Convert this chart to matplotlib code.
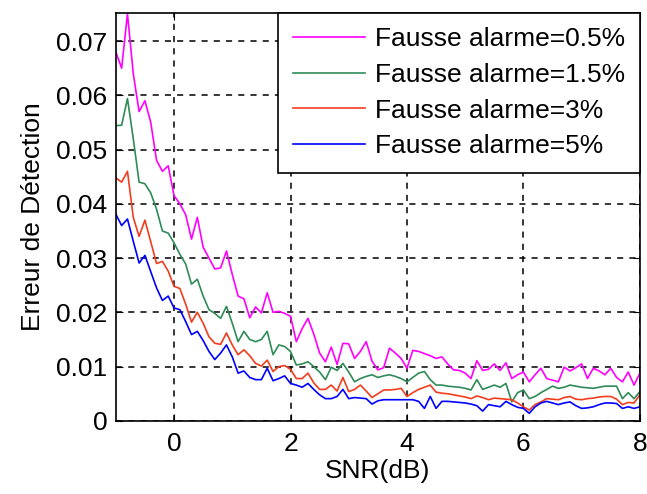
import numpy as np
import matplotlib.pyplot as plt

plt.rcParams['font.family'] = ['Liberation Sans', 'DejaVu Sans']

# SNR axis, 0.1 dB step
snr = np.round(np.arange(-1.0, 8.001, 0.1), 1)

err_05 = [0.0680, 0.0650, 0.0750, 0.0640, 0.0570, 0.0590, 0.0550, 0.0480, 0.0460, 0.0470,
          0.0415, 0.0400, 0.0380, 0.0335, 0.0375, 0.0320, 0.0300, 0.0280, 0.0282, 0.0313,
          0.0270, 0.0230, 0.0225, 0.0190, 0.0210, 0.0199, 0.0236, 0.0200, 0.0202, 0.0198,
          0.0193, 0.0146, 0.0170, 0.0189, 0.0160, 0.0125, 0.0109, 0.0136, 0.0104, 0.0143,
          0.0142, 0.0115, 0.0128, 0.0146, 0.0110, 0.0094, 0.0098, 0.0134, 0.0125, 0.0115,
          0.0097, 0.0130, 0.0128, 0.0124, 0.0120, 0.0115, 0.0118, 0.0105, 0.0094, 0.0093,
          0.0088, 0.0078, 0.0111, 0.0093, 0.0095, 0.0105, 0.0093, 0.0107, 0.0078, 0.0085,
          0.0090, 0.0072, 0.0085, 0.0097, 0.0078, 0.0075, 0.0072, 0.0099, 0.0092, 0.0098,
          0.0105, 0.0078, 0.0097, 0.0092, 0.0085, 0.0097, 0.0080, 0.0072, 0.0090, 0.0066,
          0.0088]

err_15 = [0.0544, 0.0545, 0.0594, 0.0520, 0.0440, 0.0437, 0.0420, 0.0390, 0.0350, 0.0346,
          0.0328, 0.0307, 0.0289, 0.0252, 0.0261, 0.0230, 0.0205, 0.0198, 0.0189, 0.0211,
          0.0180, 0.0146, 0.0165, 0.0150, 0.0146, 0.0150, 0.0165, 0.0122, 0.0140, 0.0137,
          0.0128, 0.0103, 0.0105, 0.0109, 0.0100, 0.0090, 0.0076, 0.0099, 0.0093, 0.0106,
          0.0090, 0.0072, 0.0078, 0.0082, 0.0085, 0.0080, 0.0083, 0.0085, 0.0082, 0.0078,
          0.0072, 0.0080, 0.0088, 0.0091, 0.0076, 0.0066, 0.0066, 0.0064, 0.0063, 0.0062,
          0.0060, 0.0057, 0.0076, 0.0058, 0.0062, 0.0066, 0.0062, 0.0069, 0.0035, 0.0052,
          0.0057, 0.0041, 0.0045, 0.0052, 0.0058, 0.0064, 0.0060, 0.0062, 0.0066, 0.0064,
          0.0062, 0.0061, 0.0060, 0.0062, 0.0064, 0.0064, 0.0064, 0.0041, 0.0052, 0.0041,
          0.0054]

err_3 = [0.0448, 0.0440, 0.0460, 0.0375, 0.0340, 0.0370, 0.0330, 0.0290, 0.0294, 0.0276,
         0.0248, 0.0244, 0.0215, 0.0182, 0.0200, 0.0180, 0.0155, 0.0143, 0.0141, 0.0162,
         0.0140, 0.0122, 0.0131, 0.0120, 0.0106, 0.0101, 0.0112, 0.0091, 0.0100, 0.0102,
         0.0095, 0.0078, 0.0078, 0.0088, 0.0070, 0.0058, 0.0058, 0.0066, 0.0055, 0.0080,
         0.0054, 0.0058, 0.0066, 0.0055, 0.0043, 0.0050, 0.0057, 0.0057, 0.0058, 0.0060,
         0.0045, 0.0052, 0.0058, 0.0062, 0.0066, 0.0053, 0.0051, 0.0050, 0.0048, 0.0046,
         0.0044, 0.0041, 0.0046, 0.0043, 0.0039, 0.0042, 0.0041, 0.0040, 0.0039, 0.0033,
         0.0026, 0.0020, 0.0030, 0.0035, 0.0041, 0.0040, 0.0039, 0.0043, 0.0045, 0.0040,
         0.0039, 0.0041, 0.0042, 0.0044, 0.0045, 0.0045, 0.0040, 0.0030, 0.0034, 0.0033,
         0.0048]

err_5 = [0.0381, 0.0360, 0.0372, 0.0331, 0.0291, 0.0305, 0.0275, 0.0245, 0.0222, 0.0230,
         0.0208, 0.0205, 0.0183, 0.0159, 0.0165, 0.0148, 0.0128, 0.0113, 0.0125, 0.0140,
         0.0118, 0.0088, 0.0092, 0.0080, 0.0076, 0.0076, 0.0097, 0.0074, 0.0078, 0.0083,
         0.0069, 0.0066, 0.0062, 0.0069, 0.0058, 0.0048, 0.0041, 0.0041, 0.0045, 0.0058,
         0.0041, 0.0043, 0.0042, 0.0041, 0.0031, 0.0037, 0.0039, 0.0039, 0.0039, 0.0039,
         0.0039, 0.0039, 0.0036, 0.0023, 0.0045, 0.0023, 0.0036, 0.0036, 0.0035, 0.0034,
         0.0033, 0.0031, 0.0028, 0.0018, 0.0030, 0.0028, 0.0026, 0.0036, 0.0030, 0.0025,
         0.0023, 0.0014, 0.0026, 0.0033, 0.0036, 0.0033, 0.0030, 0.0033, 0.0035, 0.0028,
         0.0023, 0.0024, 0.0026, 0.0030, 0.0033, 0.0033, 0.0032, 0.0023, 0.0026, 0.0023,
         0.0026]

labels = ['Fausse alarme=0.5%', 'Fausse alarme=1.5%', 'Fausse alarme=3%', 'Fausse alarme=5%']
colors = ['#ff00ff', '#2e8b57', '#f23c1e', '#0000ff']
x_ticks = [0, 2, 4, 6, 8]
y_ticks = [0, 0.01, 0.02, 0.03, 0.04, 0.05, 0.06, 0.07]

fs = 19

fig = plt.figure(figsize=(6.47, 4.94), dpi=100)
ax = fig.add_axes([0.179, 0.148, 0.81, 0.826])

for series, lab, col in zip([err_05, err_15, err_3, err_5], labels, colors):
    ax.plot(snr, series, color=col, linewidth=1.2, label=lab)

ax.set_xlim(-1, 8)
ax.set_ylim(0, 0.0752)
ax.set_xticks(x_ticks)
ax.set_yticks(y_ticks)
ax.set_yticklabels(['0', '0.01', '0.02', '0.03', '0.04', '0.05', '0.06', '0.07'])
ax.grid(True, color='black', linestyle=(0, (4, 4)), linewidth=1.1)
ax.tick_params(direction='in', top=True, right=True, labelsize=fs, length=5)
ax.tick_params(axis='x', pad=8)
ax.tick_params(axis='y', pad=6)
for sp in ax.spines.values():
    sp.set_linewidth(1.2)

ax.set_xlabel('SNR(dB)', fontsize=fs, labelpad=2)
ax.set_ylabel('Erreur de Détection', fontsize=fs, labelpad=8)

leg = ax.legend(loc='upper right', fontsize=fs, borderaxespad=0, fancybox=False,
                framealpha=1, edgecolor='black', handlelength=2.75, handletextpad=0.38,
                labelspacing=0.44, borderpad=0.55)
leg.get_frame().set_linewidth(1.2)

fig.savefig('out.png', dpi=100)
